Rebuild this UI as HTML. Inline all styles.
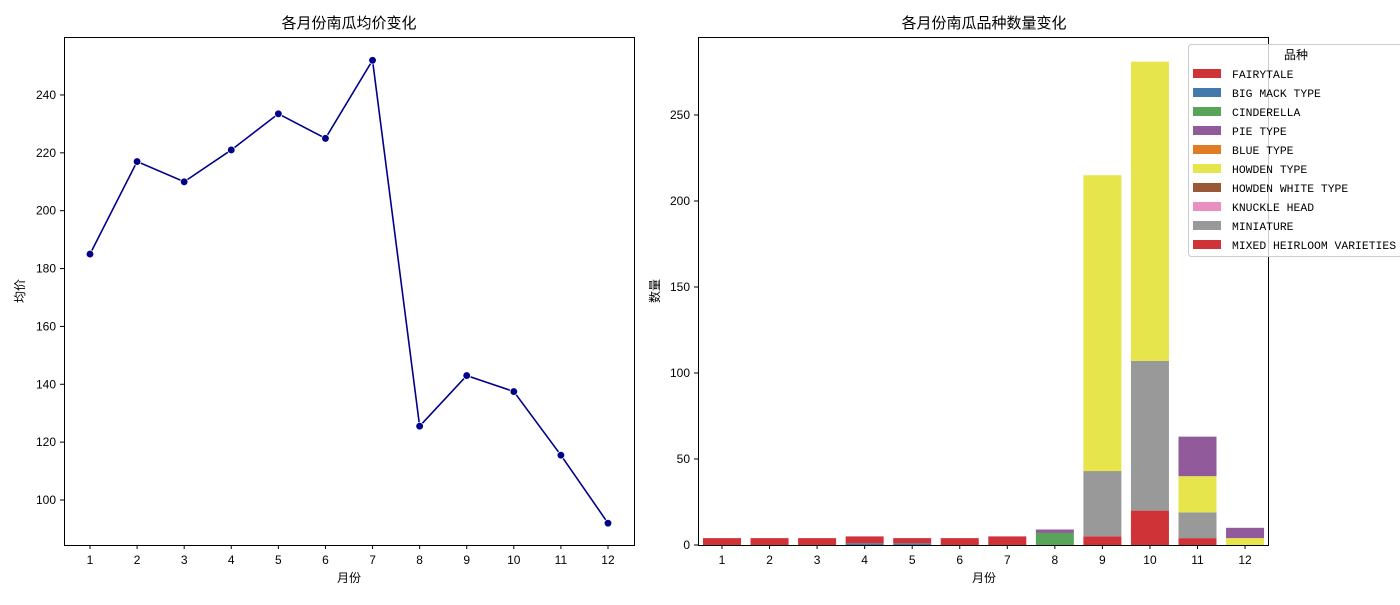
<!DOCTYPE html>
<html><head><meta charset="utf-8"><style>
body{margin:0;background:#fff;}
text{font-family:"Liberation Sans","Noto Sans CJK SC",sans-serif;fill:#000;}
.mono{font-family:"Liberation Mono","Noto Sans CJK SC",monospace;}
</style></head><body>
<svg id="s" width="1400" height="600" xmlns="http://www.w3.org/2000/svg">
<rect width="1400" height="600" fill="#fff"/>
<g id="L"></g>
<g id="R"></g>
</svg>
<script>
const months=[1,2,3,4,5,6,7,8,9,10,11,12];
const avgPrice=[185,217,210,221,233.5,225,252,125.5,143,137.5,115.5,92];
const leftTicks=[100,120,140,160,180,200,220,240];
const rightTicks=[0,50,100,150,200,250];
const varieties=["FAIRYTALE","BIG MACK TYPE","CINDERELLA","PIE TYPE","BLUE TYPE","HOWDEN TYPE","HOWDEN WHITE TYPE","KNUCKLE HEAD","MINIATURE","MIXED HEIRLOOM VARIETIES"];
const colors=["#d03337","#4479ab","#5aa45a","#915a9b","#e07c24","#e7e54c","#9b5837","#e890c2","#999999","#d03337"];
const fairytale=[4,4,4,4,3,4,5,0,5,20,4,0];
const bigMack=[0,0,0,1,1,0,0,0,0,0,0,0];
const cinderella=[0,0,0,0,0,0,0,7,0,0,0,0];
const pieType=[0,0,0,0,0,0,0,2,0,0,23,6];
const howden=[0,0,0,0,0,0,0,0,172,174,21,4];
const miniature=[0,0,0,0,0,0,0,0,38,87,15,0];
const NS="http://www.w3.org/2000/svg";
function el(p,t,a,txt){const e=document.createElementNS(NS,t);for(const k in a)e.setAttribute(k,a[k]);if(txt!==undefined)e.textContent=txt;p.appendChild(e);return e;}
// left
const L=document.getElementById('L');
const lx=m=>90+(m-1)*47.09, ly=v=>500-(v-100)*2.893;
el(L,'rect',{x:64.5,y:37.5,width:570,height:508,fill:'none',stroke:'#000'});
leftTicks.forEach(t=>{el(L,'line',{x1:64,x2:60,y1:ly(t),y2:ly(t),stroke:'#000'});const e=el(L,'text',{x:56,y:ly(t)+4,'text-anchor':'end','font-size':12},t);
});
months.forEach(m=>{el(L,'line',{x1:lx(m),x2:lx(m),y1:545,y2:549,stroke:'#000'});const e=el(L,'text',{x:lx(m),y:564,'text-anchor':'middle','font-size':12},m);
});
const pl=el(L,'polyline',{points:months.map((m,i)=>lx(m)+','+ly(avgPrice[i])).join(' '),fill:'none',stroke:'#00008b','stroke-width':1.6});

months.forEach((m,i)=>{const c=el(L,'circle',{cx:lx(m),cy:ly(avgPrice[i]),r:3.8,fill:'#00008b',stroke:'#fff','stroke-width':0.7});
});
let t=el(L,'text',{x:349,y:28,'text-anchor':'middle','font-size':15},'各月份南瓜均价变化');
t=el(L,'text',{x:349,y:582,'text-anchor':'middle','font-size':12},'月份');
t=el(L,'text',{x:24,y:291,'text-anchor':'middle','font-size':12,transform:'rotate(-90 24 291)'},'均价');
// right
const R=document.getElementById('R');
const rx=m=>722+(m-1)*47.55, ry=v=>545-v*1.72;
const stack=[[bigMack,1],[fairytale,0],[cinderella,2],[miniature,8],[howden,5],[pieType,3]];
months.forEach((m,i)=>{let b=0;stack.forEach(([arr,ci])=>{const v=arr[i];if(v>0){const r=el(R,'rect',{x:rx(m)-19,y:ry(b+v),width:38,height:v*1.72,fill:colors[ci]});
b+=v;}});});
el(R,'rect',{x:698.5,y:37.5,width:570,height:508,fill:'none',stroke:'#000'});
rightTicks.forEach(v=>{el(R,'line',{x1:698,x2:694,y1:ry(v),y2:ry(v),stroke:'#000'});const e=el(R,'text',{x:690,y:ry(v)+4,'text-anchor':'end','font-size':12},v);
});
months.forEach(m=>{el(R,'line',{x1:rx(m),x2:rx(m),y1:545,y2:549,stroke:'#000'});const e=el(R,'text',{x:rx(m),y:564,'text-anchor':'middle','font-size':12},m);
});
t=el(R,'text',{x:984,y:28,'text-anchor':'middle','font-size':15},'各月份南瓜品种数量变化');
t=el(R,'text',{x:984,y:582,'text-anchor':'middle','font-size':12},'月份');
t=el(R,'text',{x:659,y:291,'text-anchor':'middle','font-size':12,transform:'rotate(-90 659 291)'},'数量');
// legend
const G=el(R,'g',{});
el(G,'rect',{x:1188.5,y:44.5,width:215,height:212,rx:3,fill:'#fff','fill-opacity':0.8,stroke:'#ccc'});
t=el(G,'text',{x:1296,y:59,'text-anchor':'middle','font-size':12},'品种');
varieties.forEach((n,i)=>{const y=74+i*19;el(G,'rect',{x:1193,y:y-5,width:28,height:9,fill:colors[i]});
const e=el(G,'text',{x:1232,y:y+4,'font-size':11.4,class:'mono'},n);});
</script>
</body></html>
